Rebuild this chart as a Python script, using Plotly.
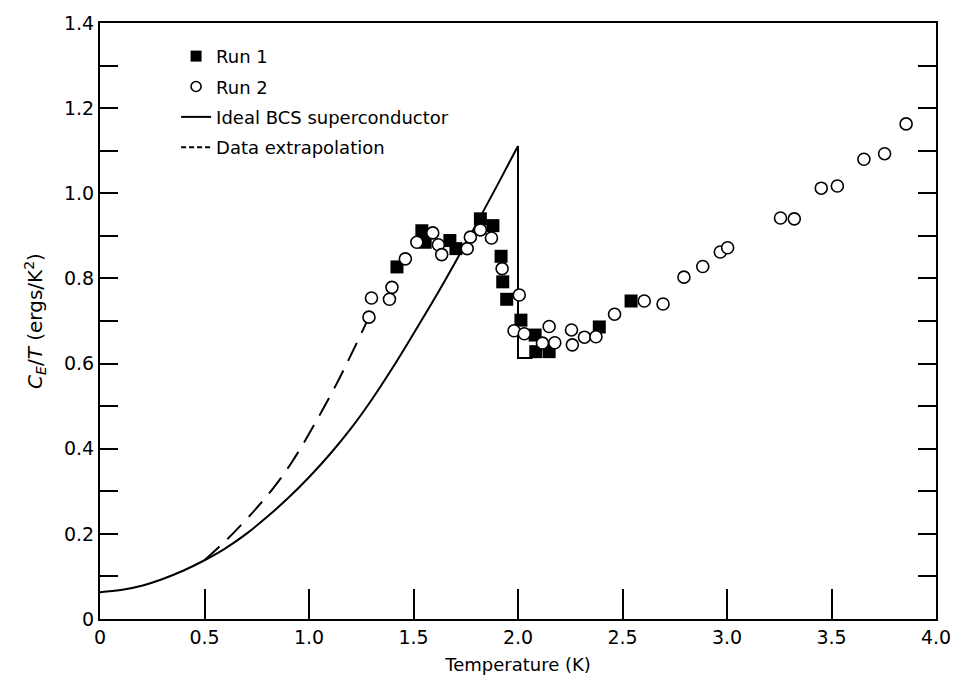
import plotly.graph_objects as go

# ---- data ----
run1_T = [1.421, 1.540, 1.556, 1.674, 1.703, 1.820, 1.880, 1.919, 1.927, 1.946,
          2.014, 2.082, 2.085, 2.149, 2.389, 2.541]
run1_C = [0.827, 0.912, 0.885, 0.889, 0.870, 0.940, 0.924, 0.852, 0.792, 0.751,
          0.702, 0.667, 0.628, 0.628, 0.686, 0.747]

run2_T = [1.287, 1.299, 1.385, 1.397, 1.461, 1.516, 1.592, 1.619, 1.635, 1.757,
          1.772, 1.820, 1.873, 1.924, 2.006, 1.981, 2.030, 2.149, 2.176, 2.117,
          2.256, 2.260, 2.318, 2.373, 2.462, 2.604, 2.694, 2.794, 2.884, 2.968,
          3.003, 3.256, 3.322, 3.451, 3.528, 3.655, 3.754, 3.857]
run2_C = [0.709, 0.754, 0.751, 0.779, 0.846, 0.885, 0.907, 0.879, 0.856, 0.870,
          0.897, 0.914, 0.895, 0.823, 0.761, 0.677, 0.670, 0.687, 0.649, 0.648,
          0.679, 0.644, 0.662, 0.663, 0.716, 0.747, 0.740, 0.803, 0.828, 0.862,
          0.872, 0.942, 0.940, 1.012, 1.017, 1.080, 1.093, 1.163]

# ideal BCS curve below Tc (read every 0.1 K), and the jump at Tc
bcs_T = [0.0, 0.1, 0.2, 0.3, 0.4, 0.5, 0.6, 0.7, 0.8, 0.9, 1.0,
         1.1, 1.2, 1.3, 1.4, 1.5, 1.6, 1.7, 1.8, 1.9, 2.0]
bcs_C = [0.063, 0.068, 0.078, 0.094, 0.114, 0.138, 0.166, 0.200, 0.240, 0.284, 0.333,
         0.387, 0.447, 0.515, 0.590, 0.670, 0.752, 0.838, 0.927, 1.018, 1.111]
jump_T = [2.0, 2.0, 2.07]
jump_C = [1.111, 0.613, 0.613]

extrap_T = [0.5, 0.61, 0.73, 0.83, 0.92, 1.02, 1.14, 1.287]
extrap_C = [0.138, 0.188, 0.250, 0.308, 0.370, 0.452, 0.560, 0.709]

x_tickvals = [0, 0.5, 1.0, 1.5, 2.0, 2.5, 3.0, 3.5, 4.0]
x_ticktext = ["0", "0.5", "1.0", "1.5", "2.0", "2.5", "3.0", "3.5", "4.0"]
y_tickvals = [0, 0.1, 0.2, 0.3, 0.4, 0.5, 0.6, 0.7, 0.8, 0.9, 1.0, 1.1, 1.2, 1.3, 1.4]
y_ticktext = ["0", "", "0.2", "", "0.4", "", "0.6", "", "0.8", "", "1.0", "", "1.2", "", "1.4"]

legend_names = ["Run 1", "Run 2", "Ideal BCS superconductor", "Data extrapolation"]

FONT = "DejaVu Sans"

fig = go.Figure()

fig.add_trace(go.Scatter(x=bcs_T, y=bcs_C, mode="lines",
                         line=dict(color="black", width=2, shape="spline", smoothing=1.0),
                         showlegend=False))
fig.add_trace(go.Scatter(x=jump_T, y=jump_C, mode="lines",
                         line=dict(color="black", width=2), showlegend=False))
fig.add_trace(go.Scatter(x=extrap_T, y=extrap_C, mode="lines",
                         line=dict(color="black", width=2, dash="20px,11px",
                                   shape="spline", smoothing=1.0),
                         showlegend=False))
fig.add_trace(go.Scatter(x=run1_T, y=run1_C, mode="markers", name=legend_names[0],
                         marker=dict(symbol="square", size=13, color="black",
                                     line=dict(width=0)), showlegend=False))
fig.add_trace(go.Scatter(x=run2_T, y=run2_C, mode="markers", name=legend_names[1],
                         marker=dict(symbol="circle", size=12, color="white",
                                     line=dict(width=1.6, color="black")), showlegend=False))

# legend-only entries
fig.add_trace(go.Scatter(x=[None], y=[None], mode="markers", name=legend_names[0],
                         legendgroup="a",
                         marker=dict(symbol="square", size=11, color="black")))
fig.add_trace(go.Scatter(x=[None], y=[None], mode="markers", name=legend_names[1],
                         legendgroup="b",
                         marker=dict(symbol="circle", size=10, color="white",
                                     line=dict(width=1.6, color="black"))))
fig.add_trace(go.Scatter(x=[None], y=[None], mode="lines", name=legend_names[2],
                         legendgroup="c",
                         line=dict(color="black", width=2)))
fig.add_trace(go.Scatter(x=[None], y=[None], mode="lines", name=legend_names[3],
                         legendgroup="d",
                         line=dict(color="black", width=2, dash="5px,3px")))

fig.update_layout(
    width=963, height=684,
    margin=dict(l=100, r=19, t=21, b=63),
    paper_bgcolor="white", plot_bgcolor="white",
    font=dict(family=FONT, color="black", size=18),
    legend=dict(x=0.091, y=0.975, xanchor="left", yanchor="top",
                bgcolor="rgba(0,0,0,0)", font=dict(size=18, family=FONT, color="black"),
                traceorder="grouped", tracegroupgap=4, itemwidth=30),
    xaxis=dict(range=[0, 4], tickvals=x_tickvals, ticktext=x_ticktext,
               ticks="inside", ticklen=30, tickwidth=1.5, tickcolor="black",
               showline=True, linecolor="black", linewidth=2, mirror=True,
               showgrid=False, zeroline=False,
               tickfont=dict(size=19, family=FONT, color="black"),
               title=dict(text="Temperature (K)",
                          font=dict(size=18, family=FONT, color="black"), standoff=12)),
    yaxis=dict(range=[0, 1.4], tickvals=y_tickvals, ticktext=y_ticktext,
               ticks="inside", ticklen=18, tickwidth=1.5, tickcolor="black",
               showline=True, linecolor="black", linewidth=2, mirror="ticks",
               showgrid=False, zeroline=False,
               tickfont=dict(size=19, family=FONT, color="black"),
               title=dict(text="<i>C</i><sub><i>E</i></sub>/<i>T</i> (ergs/K<sup>2</sup>)",
                          font=dict(size=20, family=FONT, color="black"), standoff=16)),
)

fig.write_html("out.html")
